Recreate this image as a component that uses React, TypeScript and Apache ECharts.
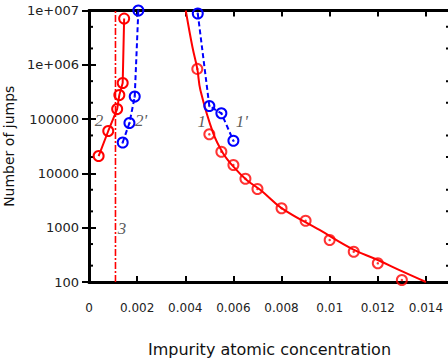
import React, { useEffect, useRef } from "react";
import * as echarts from "echarts";

// x range and ticks
const X_MIN = 0;
const X_MAX = 0.015;
const X_INTERVAL = 0.002;

// y (log) ticks
const yTickValues = [100, 1000, 10000, 100000, 1000000, 10000000];
const yTickLabels = ["100", "1000", "10000", "100000", "1e+006", "1e+007"];
const yMinorTicks = [200, 500, 2000, 5000, 20000, 50000, 200000, 500000, 2000000, 5000000];

// curve 1 (red fit line)
const fit1X = [0.00402, 0.0043, 0.0045, 0.00463, 0.00516, 0.00557, 0.006, 0.00655, 0.00714, 0.008, 0.00958, 0.01097, 0.012, 0.01304, 0.014];
const fit1Y = [10000000, 2100000, 840000, 340000, 55000, 23500, 13300, 7550, 4900, 2300, 908, 400, 254, 155, 100];

// series 1 (red circles)
const s1X = [0.0045, 0.005, 0.0055, 0.006, 0.0065, 0.007, 0.008, 0.009, 0.01, 0.011, 0.012, 0.013];
const s1Y = [840000, 52500, 25100, 14300, 7960, 5160, 2280, 1345, 593, 361, 221, 109];

// series 1' (blue dashed)
const s1pX = [0.00452, 0.005, 0.0055, 0.006];
const s1pY = [8800000, 174000, 128000, 40000];

// series 2 (red solid)
const s2X = [0.0004, 0.0008, 0.00117, 0.00126, 0.0014, 0.00146];
const s2Y = [20900, 60400, 153000, 278000, 462000, 7100000];

// series 2' (blue dashed)
const s2pX = [0.0014, 0.00168, 0.0019, 0.00205];
const s2pY = [37100, 84800, 260000, 10000000];

// vertical line 3
const line3X = 0.0011;

// curve labels
const labelTexts = ["2", "2'", "1", "1'", "3"];
const labelX = [0.00042, 0.00216, 0.00469, 0.00635, 0.00137];
const labelY = [96000, 96000, 88500, 88500, 986];

const RED = "#ff0000";
const BLUE = "#0000ff";

const zip = (xs: number[], ys: number[]) => xs.map((x, i) => [x, ys[i]]);

export default function App() {
  const ref = useRef<HTMLDivElement>(null);
  useEffect(() => {
    document.body.style.margin = "0";
    const chart = echarts.init(ref.current!, null, { renderer: "svg" });
    const ringStyle = (c: string) => ({ color: "transparent", borderColor: c, borderWidth: 2 });
    const dotSeries = (xs: number[], ys: number[], c: string) => ({
      type: "scatter",
      data: zip(xs, ys),
      symbol: "circle",
      symbolSize: 2.5,
      itemStyle: { color: c },
      clip: false,
      silent: true,
      z: 5,
    });
    const option: any = {
      animation: false,
      backgroundColor: "#fff",
      grid: { left: 89, top: 10.5, width: 361, height: 271.5, outerBoundsMode: "none", containLabel: false },
      xAxis: [
        {
          type: "value",
          min: X_MIN,
          max: X_MAX,
          interval: X_INTERVAL,
          name: "Impurity atomic concentration",
          nameLocation: "middle",
          nameGap: 59,
          nameTextStyle: { fontFamily: "DejaVu Sans", fontSize: 16, color: "#111" },
          axisLine: { lineStyle: { color: "#000", width: 3 } },
          axisTick: { inside: true, length: 6, lineStyle: { color: "#000", width: 2 } },
          axisLabel: {
            margin: 20,
            fontFamily: "DejaVu Sans",
            fontSize: 12,
            color: "#222",
            showMaxLabel: false,
            formatter: (v: number) => (v === 0 ? "0" : String(+v.toFixed(3))),
          },
          splitLine: { show: false },
        },
        {
          type: "value",
          position: "top",
          min: X_MIN,
          max: X_MAX,
          interval: X_INTERVAL,
          axisLine: { lineStyle: { color: "#000", width: 3 } },
          axisTick: { inside: true, length: 6, lineStyle: { color: "#000", width: 2 } },
          axisLabel: { show: false },
          splitLine: { show: false },
        },
      ],
      yAxis: [
        {
          type: "log",
          logBase: 10,
          min: 100,
          max: 10000000,
          name: "Number of jumps",
          nameLocation: "middle",
          nameGap: 68,
          nameTextStyle: { fontFamily: "DejaVu Sans", fontSize: 14, color: "#111" },
          axisLine: { lineStyle: { color: "#000", width: 3 } },
          axisTick: { inside: true, length: 7, lineStyle: { color: "#000", width: 2 } },
          axisLabel: {
            margin: 10,
            fontFamily: "DejaVu Sans",
            fontSize: 13,
            color: "#222",
            formatter: (v: number) => {
              const i = yTickValues.findIndex((t) => Math.abs(t - v) / t < 1e-6);
              return i >= 0 ? yTickLabels[i] : "";
            },
          },
          splitLine: { show: false },
        },
        {
          type: "log",
          logBase: 10,
          min: 100,
          max: 10000000,
          position: "right",
          axisLine: { lineStyle: { color: "#000", width: 3 } },
          axisTick: { inside: true, length: 7, lineStyle: { color: "#000", width: 2 } },
          axisLabel: { show: false },
          splitLine: { show: false },
        },
      ],
      series: [
        {
          type: "custom",
          data: yMinorTicks.map((v) => [X_MIN, v]),
          silent: true,
          clip: false,
          renderItem: (params: any, api: any) => {
            const v = api.value(1);
            const l = api.coord([X_MIN, v]);
            const r = api.coord([X_MAX, v]);
            return {
              type: "group",
              children: [
                { type: "line", shape: { x1: l[0], y1: l[1], x2: l[0] + 4, y2: l[1] }, style: { stroke: "#000", lineWidth: 2 } },
                { type: "line", shape: { x1: r[0] - 4, y1: r[1], x2: r[0], y2: r[1] }, style: { stroke: "#000", lineWidth: 2 } },
              ],
            };
          },
        },
        {
          type: "line",
          data: [
            [line3X, 100],
            [line3X, 10000000],
          ],
          showSymbol: false,
          lineStyle: { color: RED, width: 1.6, type: [7, 2, 2, 2] },
          silent: true,
        },
        {
          type: "line",
          data: zip(fit1X, fit1Y),
          smooth: 0.4,
          showSymbol: false,
          lineStyle: { color: RED, width: 2 },
          silent: true,
        },
        {
          type: "scatter",
          data: zip(s1X, s1Y),
          symbol: "circle",
          symbolSize: 10,
          itemStyle: ringStyle(RED),
          clip: false,
        },
        dotSeries(s1X, s1Y, RED),
        {
          type: "line",
          data: zip(s2X, s2Y),
          symbol: "circle",
          symbolSize: 10,
          showAllSymbol: true,
          itemStyle: ringStyle(RED),
          lineStyle: { color: RED, width: 2 },
          clip: false,
        },
        {
          type: "line",
          data: zip(s2pX, s2pY),
          symbol: "circle",
          symbolSize: 10,
          showAllSymbol: true,
          itemStyle: ringStyle(BLUE),
          lineStyle: { color: BLUE, width: 2, type: [5, 3] },
          clip: false,
        },
        dotSeries(s2pX, s2pY, BLUE),
        {
          type: "line",
          data: zip(s1pX, s1pY),
          symbol: "circle",
          symbolSize: 10,
          showAllSymbol: true,
          itemStyle: ringStyle(BLUE),
          lineStyle: { color: BLUE, width: 2, type: [5, 3] },
          clip: false,
        },
        dotSeries(s1pX, s1pY, BLUE),
        {
          type: "scatter",
          data: labelTexts.map((t, i) => [labelX[i], labelY[i], t]),
          symbolSize: 0,
          silent: true,
          label: {
            show: true,
            position: "inside",
            formatter: (p: any) => p.data[2],
            fontFamily: "Liberation Serif",
            fontStyle: "italic",
            fontSize: 17,
            color: "#333",
          },
        },
      ],
    };
    chart.setOption(option);
    return () => chart.dispose();
  }, []);
  return <div ref={ref} style={{ position: "absolute", left: 0, top: 0, width: 448, height: 363 }} />;
}
